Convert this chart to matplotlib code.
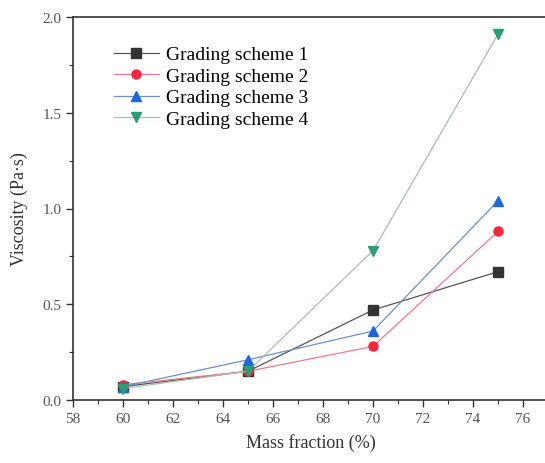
import matplotlib
matplotlib.use('Agg')
import matplotlib.pyplot as plt
from matplotlib.ticker import MultipleLocator


plt.rcParams['font.family'] = ['Liberation Serif', 'DejaVu Serif']

# ==============================================================================
# data
# ==============================================================================

mass_fraction = [60, 65, 70, 75]

scheme_1 = [0.07, 0.15, 0.47, 0.67]
scheme_2 = [0.08, 0.15, 0.28, 0.88]
scheme_3 = [0.07, 0.21, 0.36, 1.04]
scheme_4 = [0.06, 0.15, 0.78, 1.91]

labels = ['Grading scheme 1', 'Grading scheme 2', 'Grading scheme 3', 'Grading scheme 4']

# ==============================================================================
# styles
# ==============================================================================

styles = [
    dict(marker='s', color='#555555', mfc='#333333', mec='#333333'),
    dict(marker='o', color='#f07a8a', mfc='#f0283c', mec='#f0283c'),
    dict(marker='^', color='#6a92c4', mfc='#1f66d6', mec='#1f66d6'),
    dict(marker='v', color='#a8bfb2', mfc='#2a9d74', mec='#2a9d74'),
]

# ==============================================================================
# plot
# ==============================================================================

fig = plt.figure(figsize=(5.45, 4.64), dpi=100)
ax = fig.add_axes([73 / 545, 63 / 464, 475 / 545, 383 / 464])

for values, label, st in zip([scheme_1, scheme_2, scheme_3, scheme_4], labels, styles):
    ax.plot(mass_fraction, values,
            linewidth=0.9,
            markersize=6.5,
            label=label,
            **st)

ax.set_xlim(58, 77)
ax.set_ylim(0.0, 2.0)
ax.xaxis.set_major_locator(MultipleLocator(2))
ax.xaxis.set_minor_locator(MultipleLocator(1))
ax.yaxis.set_major_locator(MultipleLocator(0.5))
ax.yaxis.set_minor_locator(MultipleLocator(0.25))
ax.xaxis.set_major_formatter(plt.FuncFormatter(lambda v, p: '%d' % v))
ax.yaxis.set_major_formatter(plt.FuncFormatter(lambda v, p: '%.1f' % v))

ax.tick_params(which='major', direction='out', length=5, width=1.0, labelsize=11, colors='#333333')
ax.tick_params(which='minor', direction='out', length=3, width=0.8, colors='#333333')
ax.tick_params(axis='both', labelcolor='#555555')
ax.tick_params(top=False, right=False, which='both')

for side in ['left', 'bottom', 'top']:
    ax.spines[side].set_linewidth(1.2)
    ax.spines[side].set_color('#333333')
ax.spines['right'].set_visible(False)

ax.set_xlabel('Mass fraction (%)', fontsize=13, color='#333333', labelpad=6)
ax.set_ylabel('Viscosity (Pa·s)', fontsize=13, color='#333333', labelpad=10)

ax.legend(loc='upper left',
          bbox_to_anchor=(0.07, 0.945),
          frameon=False,
          fontsize=14,
          handlelength=2.3,
          handletextpad=0.35,
          labelspacing=0.2,
          borderaxespad=0.0)

fig.savefig('out.png', dpi=100)
